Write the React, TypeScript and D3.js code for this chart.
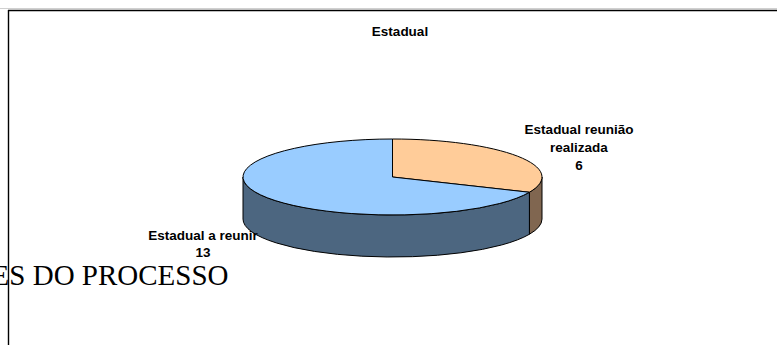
import React from "react";
import * as d3 from "d3";

const categories = ["Estadual reunião realizada", "Estadual a reunir"];
const values = [6, 13];
const topColors = ["#FFCC99", "#99CCFF"];
const sideColors = ["#806650", "#4C6680"];
const title = "Estadual";
const backText = "ES DO PROCESSO";

const W = 777;
const H = 345;
const cx = 392.5;
const cy = 177;
const rx = 149.5;
const ry = 38;
const depth = 42;

function pt(a: number, dy = 0): [number, number] {
  return [cx + rx * Math.sin(a), cy - ry * Math.cos(a) + dy];
}

export default function App() {
  const arcs = d3
    .pie<number>()
    .sort(null)
    .startAngle(0)
    .endAngle(2 * Math.PI)(values);

  const sides: { d: string; fill: string }[] = [];
  const tops: { d: string; fill: string }[] = [];

  arcs.forEach((a, i) => {
    const a0 = a.startAngle;
    const a1 = a.endAngle;
    const p0 = pt(a0);
    const p1 = pt(a1);
    const large = a1 - a0 > Math.PI ? 1 : 0;
    const path = d3.path();
    path.moveTo(cx, cy);
    path.lineTo(p0[0], p0[1]);
    tops.push({
      d: `M${cx},${cy}L${p0[0]},${p0[1]}A${rx},${ry} 0 ${large} 1 ${p1[0]},${p1[1]}Z`,
      fill: topColors[i],
    });
    const s = Math.max(a0, Math.PI / 2);
    const e = Math.min(a1, (3 * Math.PI) / 2);
    if (e > s) {
      const ps = pt(s);
      const pe = pt(e);
      const pes = pt(e, depth);
      const pss = pt(s, depth);
      sides.push({
        d: `M${ps[0]},${ps[1]}A${rx},${ry} 0 0 1 ${pe[0]},${pe[1]}L${pes[0]},${pes[1]}A${rx},${ry} 0 0 0 ${pss[0]},${pss[1]}Z`,
        fill: sideColors[i],
      });
    }
  });

  const labelFont = "'Liberation Sans', Arial, sans-serif";

  return (
    <svg
      width={W}
      height={H}
      style={{ position: "absolute", left: 0, top: 0, background: "#fff" }}
    >
      <line x1={0} x2={W} y1={8.5} y2={8.5} stroke="#d0d0d0" strokeWidth={1} />
      <line x1={8} x2={W} y1={10.5} y2={10.5} stroke="#000" strokeWidth={1.4} />
      <line x1={8.5} x2={8.5} y1={10} y2={H} stroke="#000" strokeWidth={1.4} />

      <text
        x={400}
        y={36}
        textAnchor="middle"
        fontFamily={labelFont}
        fontWeight="bold"
        fontSize={13.5}
        fill="#000"
      >
        {title}
      </text>

      {sides.map((s, i) => (
        <path key={"s" + i} d={s.d} fill={s.fill} stroke="#000" strokeWidth={1} strokeLinejoin="round" />
      ))}
      {tops.map((t, i) => (
        <path key={"t" + i} d={t.d} fill={t.fill} stroke="#000" strokeWidth={1} strokeLinejoin="round" />
      ))}

      <text
        textAnchor="middle"
        fontFamily={labelFont}
        fontWeight="bold"
        fontSize={13.5}
        fill="#000"
      >
        <tspan x={579} y={134}>Estadual reunião</tspan>
        <tspan x={579} y={152}>realizada</tspan>
        <tspan x={579} y={170}>{values[0]}</tspan>
      </text>

      <text
        textAnchor="middle"
        fontFamily={labelFont}
        fontWeight="bold"
        fontSize={13.5}
        fill="#000"
      >
        <tspan x={203} y={240}>{categories[1]}</tspan>
        <tspan x={203} y={257}>{values[1]}</tspan>
      </text>

      <text
        x={-8.4}
        y={285}
        fontFamily="'Liberation Serif', 'Times New Roman', serif"
        fontSize={29}
        fill="#000"
      >
        {backText}
      </text>
    </svg>
  );
}
